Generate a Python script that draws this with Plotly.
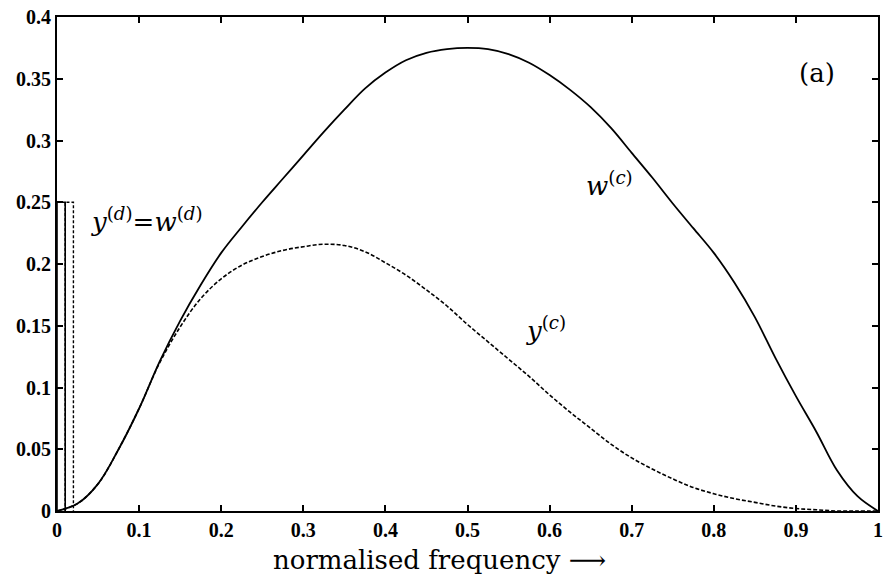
import plotly.graph_objects as go

# ---- data ----
freq = [0.0, 0.025, 0.05, 0.075, 0.1, 0.125, 0.15, 0.175, 0.2, 0.225, 0.25, 0.275,
        0.3, 0.325, 0.35, 0.375, 0.4, 0.425, 0.45, 0.475, 0.5, 0.525, 0.55, 0.575,
        0.6, 0.625, 0.65, 0.675, 0.7, 0.725, 0.75, 0.775, 0.8, 0.825, 0.85, 0.875,
        0.9, 0.925, 0.95, 0.975, 1.0]
w_c = [0.0, 0.006, 0.022, 0.050, 0.083, 0.121, 0.154, 0.183, 0.209, 0.230, 0.250, 0.269,
       0.288, 0.307, 0.325, 0.342, 0.355, 0.365, 0.371, 0.374, 0.375, 0.374, 0.370, 0.363,
       0.353, 0.341, 0.327, 0.310, 0.290, 0.270, 0.249, 0.229, 0.209, 0.185, 0.157, 0.124,
       0.093, 0.064, 0.033, 0.012, 0.0]
y_c = [0.0, 0.006, 0.022, 0.050, 0.083, 0.120, 0.149, 0.172, 0.188, 0.199, 0.206, 0.211,
       0.214, 0.216, 0.215, 0.210, 0.201, 0.191, 0.179, 0.166, 0.151, 0.137, 0.123, 0.109,
       0.094, 0.080, 0.067, 0.054, 0.043, 0.034, 0.026, 0.019, 0.014, 0.010, 0.007, 0.004,
       0.002, 0.001, 0.0, 0.0, 0.0]

# discrete components (y(d) = w(d)): bin edges and height
w_d_edges = [0.0, 0.01]   # solid
y_d_edges = [0.01, 0.02]  # dashed
d_height = 0.25

x_ticks = [0, 0.1, 0.2, 0.3, 0.4, 0.5, 0.6, 0.7, 0.8, 0.9, 1]
x_tick_text = ["0", "0.1", "0.2", "0.3", "0.4", "0.5", "0.6", "0.7", "0.8", "0.9", "1"]
y_ticks = [0, 0.05, 0.1, 0.15, 0.2, 0.25, 0.3, 0.35, 0.4]
y_tick_text = ["0", "0.05", "0.1", "0.15", "0.2", "0.25", "0.3", "0.35", "0.4"]
x_title = "normalised frequency ⟶"


def rect(edges, h):
    return [edges[0], edges[0], edges[1], edges[1]], [0, h, h, 0]


fig = go.Figure()
rx, ry = rect(w_d_edges, d_height)
fig.add_trace(go.Scatter(x=rx, y=ry, mode="lines",
                         line=dict(color="black", width=1.6), hoverinfo="skip"))
rx, ry = rect(y_d_edges, d_height)
fig.add_trace(go.Scatter(x=rx, y=ry, mode="lines",
                         line=dict(color="black", width=1.4, dash="3px,2px"), hoverinfo="skip"))
fig.add_trace(go.Scatter(x=freq, y=y_c, mode="lines", line_shape="spline",
                         line=dict(color="black", width=1.6, dash="4px,2px")))
fig.add_trace(go.Scatter(x=freq, y=w_c, mode="lines", line_shape="spline",
                         line=dict(color="black", width=1.8)))

tick_font = "Liberation Serif"
text_font = "DejaVu Serif"
ann_font = dict(family=text_font, size=26, color="black")
fig.add_annotation(x=0.926, y=0.355, text="(a)", showarrow=False, font=ann_font)
fig.add_annotation(x=0.673, y=0.265, text="<i>w</i><sup>(<i>c</i>)</sup>",
                   showarrow=False, font=ann_font)
fig.add_annotation(x=0.596, y=0.147, text="<i>y</i><sup>(<i>c</i>)</sup>",
                   showarrow=False, font=ann_font)
fig.add_annotation(x=0.11, y=0.236,
                   text="<i>y</i><sup>(<i>d</i>)</sup>=<i>w</i><sup>(<i>d</i>)</sup>",
                   showarrow=False, font=ann_font)
# x-axis title (placed as annotation to match the reference's offset)
fig.add_annotation(x=0.466, xref="x", y=-0.1, yref="paper", text=x_title,
                   showarrow=False, yanchor="middle",
                   font=dict(family=text_font, size=26, color="black"))

axis_common = dict(showline=True, linecolor="black", linewidth=2, mirror="ticks",
                   ticks="inside", ticklen=6, tickwidth=1.5, tickcolor="black",
                   showgrid=False, zeroline=False, ticklabeloverflow="allow",
                   tickfont=dict(family=tick_font, size=20, color="black", weight="bold"))
fig.update_xaxes(range=[0, 1], tickvals=x_ticks, ticktext=x_tick_text, **axis_common)
fig.update_yaxes(range=[0, 0.4], tickvals=y_ticks, ticktext=y_tick_text, **axis_common)
fig.update_layout(width=886, height=576, showlegend=False,
                  plot_bgcolor="white", paper_bgcolor="white",
                  margin=dict(l=57, r=3, t=17, b=65))
fig.write_html("out.html")
